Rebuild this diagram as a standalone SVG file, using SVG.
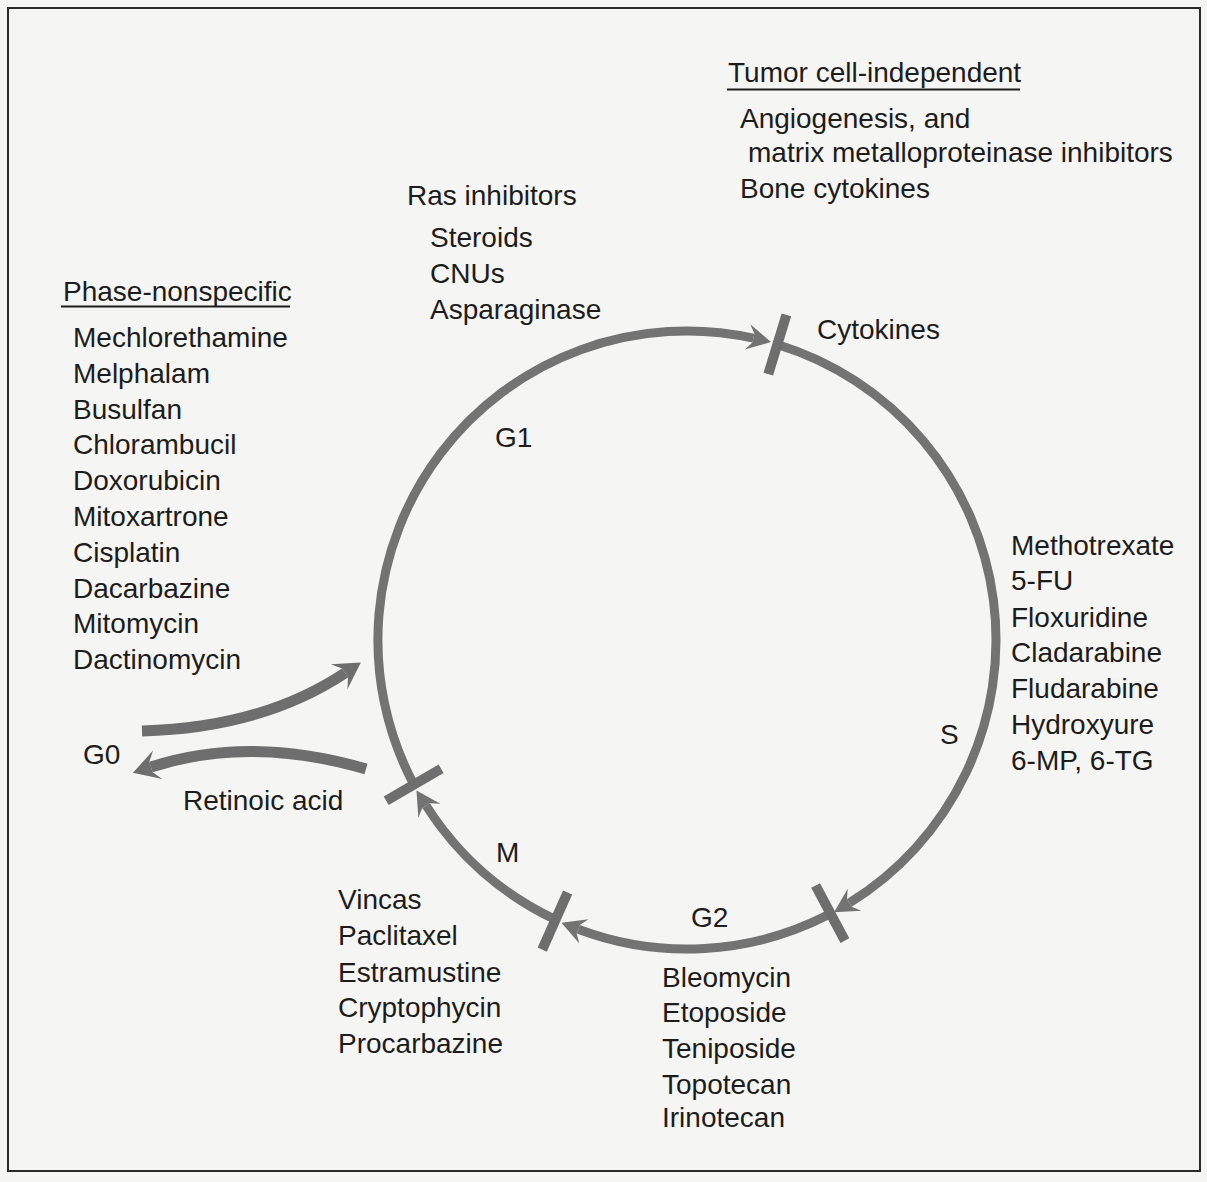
<svg xmlns="http://www.w3.org/2000/svg" width="1207" height="1182" viewBox="0 0 1207 1182">
<style>
text{font-family:"Liberation Sans",Arial,sans-serif;font-size:28px;fill:#1c1c1c}
.arc{fill:none;stroke:#737373;stroke-width:9;stroke-linecap:butt}
.g0{fill:none;stroke:#6e6e6e;stroke-width:11;stroke-linecap:butt}
.tick{stroke:#6e6e6e;stroke-width:10;stroke-linecap:butt}
.ul{stroke:#1c1c1c;stroke-width:2}
</style>
<defs>
<marker id="ah" markerUnits="userSpaceOnUse" markerWidth="30" markerHeight="30" viewBox="0 -15 30 30" refX="6" refY="0" orient="auto">
<polygon points="0,-13 24,0 0,13 6,4.5 6,-4.5" fill="#737373"/>
</marker>
<marker id="ah2" markerUnits="userSpaceOnUse" markerWidth="34" markerHeight="34" viewBox="0 -17 34 34" refX="7" refY="0" orient="auto">
<polygon points="0,-15 26,0 0,15 7,5.5 7,-5.5" fill="#6e6e6e"/>
</marker>
</defs>
<rect x="0" y="0" width="1207" height="1182" fill="#f5f5f3"/>
<rect x="8" y="8" width="1192" height="1163" fill="none" stroke="#2a2a2a" stroke-width="2"/>

<g id="connectors">
<path class="arc" d="M413.7,784.3 A309,309 0 0 1 753.4,338.2" marker-end="url(#ah)"/>
<path class="arc" d="M777.3,344.5 A309,309 0 0 1 849.4,902.9" marker-end="url(#ah)"/>
<path class="arc" d="M827.8,915.1 A309,309 0 0 1 578.3,929.2" marker-end="url(#ah)"/>
<path class="arc" d="M555.4,919.6 A309,309 0 0 1 426.1,805.6" marker-end="url(#ah)"/>
<path class="g0" d="M142,731 Q262,728 345,673" marker-end="url(#ah2)"/>
<path class="g0" d="M366,769 Q250,735 151,767" marker-end="url(#ah2)"/>
</g>

<g id="ticks">
<line class="tick" x1="768.3" y1="374.1" x2="786.4" y2="314.9"/>
<line class="tick" x1="815.6" y1="885.5" x2="844.9" y2="940.7"/>
<line class="tick" x1="567.6" y1="892.5" x2="542.2" y2="949.6"/>
<line class="tick" x1="441.1" y1="768.8" x2="386.2" y2="800.7"/>
</g>

<g id="phase-labels">
<text x="495" y="447">G1</text>
<text x="940" y="744">S</text>
<text x="691" y="927">G2</text>
<text x="496" y="862">M</text>
<text x="83" y="764">G0</text>
</g>

<g id="node-phase-nonspecific">
<text x="63" y="301">Phase-nonspecific</text>
<line class="ul" x1="61" y1="306.5" x2="290" y2="306.5"/>
<text x="73" y="347">Mechlorethamine</text>
<text x="73" y="383">Melphalam</text>
<text x="73" y="418.5">Busulfan</text>
<text x="73" y="454">Chlorambucil</text>
<text x="73" y="490">Doxorubicin</text>
<text x="73" y="526">Mitoxartrone</text>
<text x="73" y="562">Cisplatin</text>
<text x="73" y="597.5">Dacarbazine</text>
<text x="73" y="633">Mitomycin</text>
<text x="73" y="669">Dactinomycin</text>
</g>

<g id="node-ras">
<text x="407" y="205">Ras inhibitors</text>
<text x="430" y="247">Steroids</text>
<text x="430" y="283">CNUs</text>
<text x="430" y="319">Asparaginase</text>
</g>

<g id="node-tumor-independent">
<text x="728" y="82">Tumor cell-independent</text>
<line class="ul" x1="727" y1="89.5" x2="1020" y2="89.5"/>
<text x="740" y="128">Angiogenesis, and</text>
<text x="748" y="162">matrix metalloproteinase inhibitors</text>
<text x="740" y="198">Bone cytokines</text>
</g>

<g id="node-cytokines">
<text x="817" y="339">Cytokines</text>
</g>

<g id="node-s-drugs">
<text x="1011" y="555">Methotrexate</text>
<text x="1011" y="590">5-FU</text>
<text x="1011" y="626.5">Floxuridine</text>
<text x="1011" y="662">Cladarabine</text>
<text x="1011" y="698">Fludarabine</text>
<text x="1011" y="733.5">Hydroxyure</text>
<text x="1011" y="770">6-MP, 6-TG</text>
</g>

<g id="node-g2-drugs">
<text x="662" y="987">Bleomycin</text>
<text x="662" y="1022">Etoposide</text>
<text x="662" y="1058">Teniposide</text>
<text x="662" y="1093.5">Topotecan</text>
<text x="662" y="1127">Irinotecan</text>
</g>

<g id="node-m-drugs">
<text x="338" y="908.5">Vincas</text>
<text x="338" y="945">Paclitaxel</text>
<text x="338" y="981.5">Estramustine</text>
<text x="338" y="1017">Cryptophycin</text>
<text x="338" y="1053">Procarbazine</text>
</g>

<g id="node-retinoic">
<text x="183" y="810">Retinoic acid</text>
</g>
</svg>
